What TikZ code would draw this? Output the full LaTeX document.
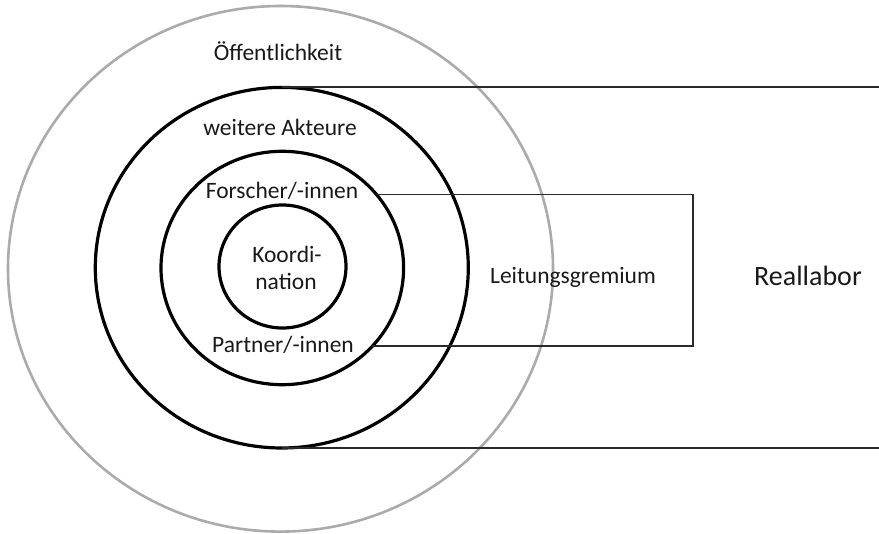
\documentclass[tikz,border=0pt]{standalone}
\usepackage{fontspec}
\setmainfont{Carlito}
\usetikzlibrary{shapes.geometric}
\definecolor{ringgray}{HTML}{ABABAB}
\definecolor{linegray}{HTML}{2A2A2A}
\begin{document}
\begin{tikzpicture}[x=1pt,y=-1pt,
  ring/.style={ellipse,draw,inner sep=0pt,outer sep=0pt},
  blackring/.style={ring,line width=3.2pt,black},
  grayring/.style={ring,line width=2.6pt,ringgray},
  frameline/.style={line width=1.8pt,linegray},
  lbl/.style={font=\fontsize{23.5}{27.5}\selectfont,anchor=base,inner sep=0pt,text=black!90},
  biglbl/.style={font=\fontsize{28}{32}\selectfont,anchor=base,inner sep=0pt,text=black!90}]
\useasboundingbox (0,0) rectangle (879,534);
% rings
\node[grayring,minimum width=545pt,minimum height=525.6pt] (outer) at (280.5,268.8) {};
\node[blackring,minimum width=373pt,minimum height=360.6pt] (akteure) at (281.8,267.7) {};
\node[blackring,minimum width=242.6pt,minimum height=233.4pt] (forscher) at (282.3,268) {};
\node[blackring,minimum width=127pt,minimum height=123pt] (koord) at (282.5,266.5) {};
% frame coordinates
\coordinate (rtop) at (879,88);
\coordinate (rbot) at (879,448);
\coordinate (bt) at (693,193);
\coordinate (bb) at (693,347);
% Reallabor frame
\draw[frameline] (akteure.north) -- (akteure.north -| rtop);
\draw[frameline] (akteure.south) -- (akteure.south -| rbot);
% Leitungsgremium bracket
\draw[frameline,line join=miter] (forscher.38) -- (forscher.38 -| bt) -- (forscher.-41 -| bb) -- (forscher.-41);
% labels
\node[lbl] (l1) at (278,61) {Öffentlichkeit};
\node[lbl] (l2) at (280,136) {weitere Akteure};
\node[lbl] (l3) at (282,199) {Forscher/-innen};
\node[lbl] (l4) at (283,353) {Partner/-innen};
\node[lbl] (l5) at (287,263) {Koordi-};
\node[lbl] (l6) at (286,290) {nation};
\node[lbl] (l7) at (573,284) {Leitungsgremium};
\node[biglbl] (l8) at (808,286) {Reallabor};
\end{tikzpicture}
\end{document}
